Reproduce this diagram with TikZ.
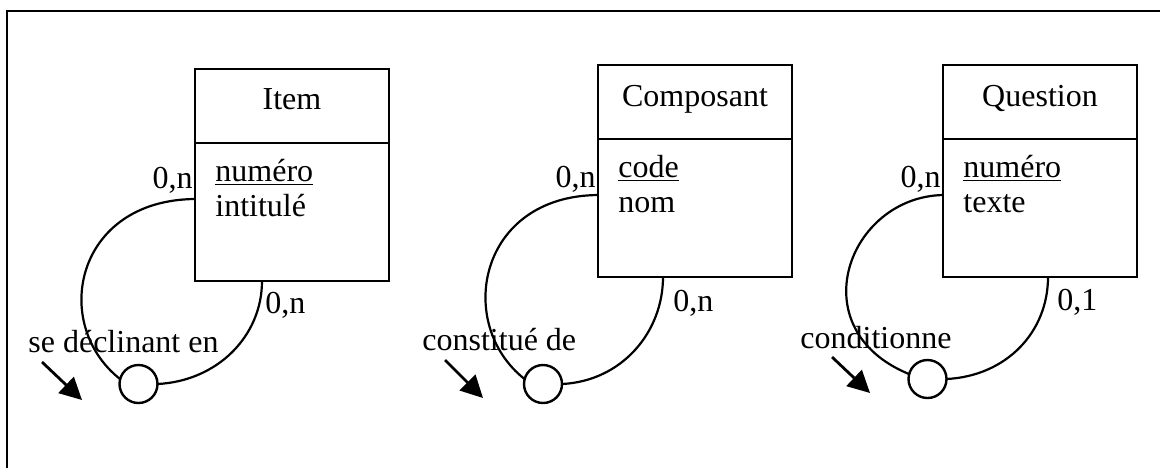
\documentclass[tikz,border=0pt]{standalone}
\usepackage{fontspec}
\setmainfont{Liberation Serif}
\usetikzlibrary{arrows.meta}

\tikzset{
	% entity boxes: header and body
	boite/.style={draw, line width=1.2pt, minimum width=97pt, inner sep=0pt, outer sep=0pt, anchor=north west},
	entete/.style={boite, minimum height=37pt},
	corps/.style={boite, minimum height=69pt},
	titre/.style={inner sep=0pt, anchor=base},
	texte/.style={inner sep=0pt, anchor=base west},
	card/.style={inner sep=0pt},
	% association circle and its links
	asso/.style={draw, circle, line width=1.2pt, minimum size=19pt, inner sep=0pt, outer sep=0pt},
	lien/.style={line width=1.1pt},
	fleche/.style={-{Triangle[length=11pt,width=11pt]}, line width=1.4pt},
	cadre/.style={line width=0.8pt},
}

\begin{document}
\begin{tikzpicture}[x=0.5pt, y=-0.5pt, font=\fontsize{16}{17.5}\selectfont]

	\useasboundingbox (0,0) rectangle (1160,468);
	% frame, only top and left edges
	\draw[cadre] (7,468) -- (7,11) -- (1160,11);

	% ---- Item ----
	\node[entete] (item) at (195,69) {};
	\node[corps] (itemc) at (item.south west) {};
	\node[titre] (itemt) at ([yshift=-20pt]item.north) {Item};
	\node[texte] (itemid) at ([xshift=10pt, yshift=-19pt]itemc.north west) {\underline{numéro}};
	\node[texte] (itemat) at ([xshift=10pt, yshift=-36.5pt]itemc.north west) {intitulé};

	\node[asso] (decl) at (138.5,384) {};
	\draw[lien] ([yshift=6.5pt]itemc.west) .. controls +(-120,1) and +(-70,-55) .. (decl.165);
	\draw[lien] (decl.east) .. controls +(60,-3) and +(0,55) .. ([xshift=-15pt]itemc.south);
	\node[card, anchor=base east] (itemcg) at ([xshift=-1pt, yshift=12pt]itemc.west) {0,n};
	\node[card, anchor=base west] (itemcb) at ([xshift=-13.5pt, yshift=-16pt]itemc.south) {0,n};

	\node[texte] (decln) at (28,352) {se déclinant en};
	\coordinate (decla) at (42,362);
	\coordinate (declb) at (82,400);
	\draw[fleche] (decla) -- (declb);

	% ---- Composant ----
	\node[entete] (comp) at (598,65) {};
	\node[corps] (compc) at (comp.south west) {};
	\node[titre] (compt) at ([yshift=-20.5pt]comp.north) {Composant};
	\node[texte] (compid) at ([xshift=10pt, yshift=-19pt]compc.north west) {\underline{code}};
	\node[texte] (compat) at ([xshift=10pt, yshift=-36.5pt]compc.north west) {nom};

	\node[asso] (const) at (543,384) {};
	\draw[lien] ([yshift=6.5pt]compc.west) .. controls +(-120,1) and +(-70,-55) .. (const.165);
	\draw[lien] (const.east) .. controls +(60,-3) and +(0,55) .. ([xshift=-16pt]compc.south);
	\node[card, anchor=base east] (compcg) at ([xshift=-1pt, yshift=10.5pt]compc.west) {0,n};
	\node[card, anchor=base west] (compcb) at ([xshift=-11pt, yshift=-17pt]compc.south) {0,n};

	\node[texte] (constn) at (422,350) {constitué de};
	\coordinate (consta) at (445,360);
	\coordinate (constb) at (483,398);
	\draw[fleche] (consta) -- (constb);

	% ---- Question ----
	\node[entete] (quest) at (943,65) {};
	\node[corps] (questc) at (quest.south west) {};
	\node[titre] (questt) at ([yshift=-20.5pt]quest.north) {Question};
	\node[texte] (questid) at ([xshift=10pt, yshift=-19pt]questc.north west) {\underline{numéro}};
	\node[texte] (questat) at ([xshift=10pt, yshift=-36.5pt]questc.north west) {texte};

	\node[asso] (cond) at (927.5,379) {};
	\draw[lien] ([yshift=6.5pt]questc.west) .. controls +(-95,2) and +(-110,-45) .. (cond.165);
	\draw[lien] (cond.east) .. controls +(60,-3) and +(0,55) .. ([xshift=4pt]questc.south);
	\node[card, anchor=base east] (questcg) at ([xshift=-1pt, yshift=10.5pt]questc.west) {0,n};
	\node[card, anchor=base west] (questcb) at ([xshift=8.5pt, yshift=-16.5pt]questc.south) {0,1};

	\node[texte] (condn) at (800,348) {conditionne};
	\coordinate (conda) at (832,357);
	\coordinate (condb) at (870,393);
	\draw[fleche] (conda) -- (condb);

\end{tikzpicture}
\end{document}
